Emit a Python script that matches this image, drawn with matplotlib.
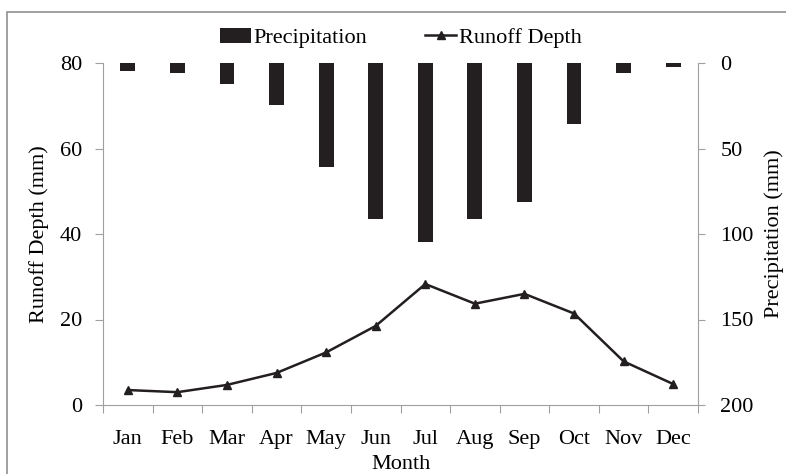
import matplotlib
matplotlib.use("Agg")
import matplotlib.pyplot as plt
from matplotlib.patches import Rectangle

months = ["Jan", "Feb", "Mar", "Apr", "May", "Jun",
          "Jul", "Aug", "Sep", "Oct", "Nov", "Dec"]
runoff = [3.5, 3.0, 4.7, 7.5, 12.3, 18.5, 28.3, 23.7, 26.0, 21.4, 10.2, 4.9]
precip = [4.5, 5.7, 12.5, 24.6, 60.6, 91.0, 104.7, 91.0, 81.3, 35.7, 5.7, 2.2]

plt.rcParams["font.family"] = ["Liberation Serif", "DejaVu Serif"]
plt.rcParams["font.size"] = 16

fig = plt.figure(figsize=(7.86, 4.74), dpi=100)
ax = fig.add_axes([103 / 786, 1 - 405 / 474, 595 / 786, 342 / 474])
ax2 = ax.twinx()

x = list(range(len(months)))
bars = ax2.bar(x, precip, width=0.3, color="#231f20", label="Precipitation")
ax2.set_ylim(200, 0)
ax2.set_yticks([0, 50, 100, 150, 200])

line, = ax.plot(x, runoff, color="#231f20", lw=1.8, marker="^", ms=6,
                label="Runoff Depth")
ax.set_ylim(0, 80)
ax.set_yticks([0, 20, 40, 60, 80])
ax.set_xlim(-0.5, 11.5)
ax.set_xticks([i - 0.5 for i in range(13)], minor=False)
ax.set_xticklabels([])
ax.set_xticks(x, minor=True)
ax.set_xticklabels(months, minor=True)
ax.tick_params(axis="x", which="minor", length=0, pad=18)
ax.tick_params(axis="x", which="major", length=6, color="#a0a0a0")
ax.tick_params(axis="y", length=6, color="#a0a0a0", pad=9)
ax2.tick_params(axis="y", length=5, color="#a0a0a0", pad=11)

for a in (ax, ax2):
    a.spines["top"].set_visible(False)
    for s in ("left", "right", "bottom"):
        a.spines[s].set_color("#a0a0a0")
ax.spines["right"].set_visible(False)
ax2.spines["left"].set_visible(False)
ax2.spines["bottom"].set_visible(False)
ax.set_zorder(ax2.get_zorder() + 1)
ax.patch.set_visible(False)

ax.set_ylabel("Runoff Depth (mm)", labelpad=8)
ax2.set_ylabel("Precipitation (mm)", labelpad=8)
ax.set_xlabel("Month", labelpad=4)

fig.legend([bars, line], ["Precipitation", "Runoff Depth"], loc="center",
           bbox_to_anchor=(0.51, 1 - 38 / 474), ncol=2, frameon=False,
           handlelength=1.4, handletextpad=0.1, columnspacing=2.6,
           fontsize=16)

fig.patches.append(Rectangle((7 / 786, -0.1), 1.2, 1 - 12 / 474 + 0.1,
                             transform=fig.transFigure, fill=False,
                             edgecolor="#909090", lw=1.2))

fig.savefig("out.png", dpi=100)
